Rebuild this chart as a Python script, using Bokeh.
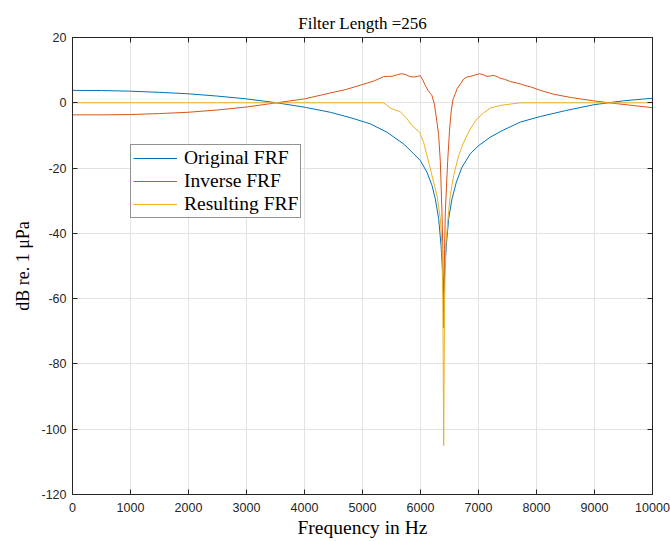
from bokeh.plotting import figure
from bokeh.models import Range1d, FixedTicker, LinearAxis, Legend, LegendItem
from bokeh.embed import file_html
from bokeh.resources import INLINE

# ---- data ----
orig_f = [0, 500, 1000, 1500, 2000, 2500, 3000, 3500, 4000, 4443, 4800, 5134, 5421, 5709, 5881,
          5997, 6112, 6198, 6255, 6313, 6354, 6375, 6390, 6400, 6410, 6425, 6445, 6486, 6543,
          6618, 6716, 6859, 7003, 7205, 7434, 7722, 8067, 8500, 8987, 9500, 10000]
orig_db = [3.8, 3.75, 3.55, 3.2, 2.75, 2.05, 1.2, 0.05, -1.35, -2.9, -4.6, -6.45, -9.0, -12.6, -15.6,
           -17.7, -21.3, -25.3, -29.4, -35.5, -43.7, -50.0, -55.0, -58.0, -55.0, -50.0, -43.7, -35.5, -29.4,
           -24.3, -19.7, -15.6, -13.1, -10.5, -8.3, -5.9, -4.2, -2.4, -0.6, 0.6, 1.4]

inv_f = [0, 500, 1000, 1500, 2000, 2500, 3000, 3520, 4000, 4443, 4700, 5001, 5200, 5364, 5450,
         5510, 5600, 5680, 5750, 5820, 5900, 5950, 5997, 6040, 6083, 6130, 6169, 6198, 6240,
         6284, 6313, 6342, 6370, 6385, 6400, 6415, 6428, 6468, 6502, 6530, 6560, 6601, 6630,
         6690, 6744, 6800, 6859, 6940, 7020, 7080, 7146, 7200, 7261, 7320, 7376, 7450, 7550,
         7650, 7722, 7800, 7895, 8067, 8300, 8600, 8987, 9246, 9600, 10000]
inv_db = [-3.7, -3.7, -3.6, -3.3, -2.9, -2.2, -1.3, 0.0, 1.2, 3.0, 4.0, 5.6, 6.7, 8.0, 8.1,
          8.1, 8.6, 8.9, 8.6, 8.0, 7.9, 8.1, 8.3, 7.0, 5.3, 3.8, 2.9, 2.2, -0.5,
          -5.9, -10.0, -18.0, -33.5, -45.0, -69.0, -45.0, -33.5, -18.0, -8.0, -2.5, 1.0, 2.8, 4.3,
          5.8, 7.3, 7.9, 8.1, 8.5, 8.9, 8.6, 8.1, 8.2, 8.4, 8.0, 7.5, 7.2, 6.5,
          6.1, 5.8, 5.3, 4.9, 3.8, 2.6, 1.6, 0.6, 0.0, -0.7, -1.5]

res_f = [0, 2500, 5000, 5364, 5479, 5560, 5651, 5767, 5853, 5985, 6054, 6112, 6169, 6226,
         6284, 6342, 6370, 6385, 6400, 6415, 6435, 6486, 6514, 6571, 6658, 6744, 6859, 6975,
         7089, 7205, 7377, 7550, 7722, 8000, 10000]
res_db = [0.0, 0.0, 0.0, 0.0, -1.6, -2.2, -2.7, -4.9, -7.0, -9.0, -12.1, -16.2, -20.2, -24.3,
          -28.4, -35.5, -43.7, -60.0, -105.0, -60.0, -43.7, -33.0, -28.4, -22.3, -16.2, -12.1, -8.0, -4.9,
          -3.1, -1.6, -0.8, -0.4, 0.0, 0.0, 0.0]

x_ticks = [0, 1000, 2000, 3000, 4000, 5000, 6000, 7000, 8000, 9000, 10000]
y_ticks = [20, 0, -20, -40, -60, -80, -100, -120]

series_names = ["Original FRF", "Inverse FRF", "Resulting FRF"]
colors = ["#0072BD", "#D95319", "#EDB120"]

AX = "#262626"
SERIF = "Liberation Serif"
SANS = "Liberation Sans"

p = figure(width=670, height=541, output_backend="svg", toolbar_location=None,
           x_range=Range1d(0, 10000), y_range=Range1d(-120, 20),
           min_border_left=72, min_border_right=18, min_border_top=37, min_border_bottom=47,
           title="Filter Length =256")
p.background_fill_color = "white"
p.border_fill_color = "white"
p.outline_line_color = AX
p.outline_line_width = 1

p.title.align = "center"
p.title.text_font = SERIF
p.title.text_font_size = "17px"
p.title.text_font_style = "normal"
p.title.text_color = "#000000"

for ax in (p.xaxis[0], p.yaxis[0]):
    ax.axis_line_color = AX
    ax.major_tick_line_color = AX
    ax.major_tick_in = 5
    ax.major_tick_out = 0
    ax.minor_tick_line_color = None
    ax.major_label_text_font = SANS
    ax.major_label_text_font_size = "12.5px"
    ax.major_label_text_color = AX
    ax.axis_label_text_font = SERIF
    ax.axis_label_text_font_size = "19.5px"
    ax.axis_label_text_font_style = "normal"
    ax.axis_label_text_color = "#000000"

p.xaxis[0].ticker = FixedTicker(ticks=x_ticks)
p.yaxis[0].ticker = FixedTicker(ticks=y_ticks)
p.yaxis[0].major_label_overrides = {t: str(t) for t in y_ticks}
p.xaxis[0].major_label_overrides = {t: str(t) for t in x_ticks}
p.xaxis[0].axis_label = "Frequency in Hz"
p.yaxis[0].axis_label = "dB re. 1 μPa"
p.yaxis[0].axis_label_text_font_size = "18px"
p.xaxis[0].major_label_standoff = 8
p.yaxis[0].major_label_standoff = 6
p.xaxis[0].axis_label_standoff = 2
p.yaxis[0].axis_label_standoff = 5

# mirrored inward ticks on top and right (MATLAB box)
for loc in ("right", "above"):
    ax = LinearAxis(ticker=FixedTicker(ticks=y_ticks if loc == "right" else x_ticks))
    ax.axis_line_color = AX
    ax.major_tick_line_color = AX
    ax.major_tick_in = 5
    ax.major_tick_out = 0
    ax.minor_tick_line_color = None
    ax.major_label_text_font_size = "0px"
    ax.major_label_text_color = None
    ax.major_label_standoff = 0
    p.add_layout(ax, loc)

p.xgrid.ticker = FixedTicker(ticks=x_ticks)
p.ygrid.ticker = FixedTicker(ticks=y_ticks)
p.grid.grid_line_color = "#e3e3e3"
p.grid.grid_line_width = 1

r_orig = p.line(orig_f, orig_db, line_color=colors[0], line_width=1)
r_inv = p.line(inv_f, inv_db, line_color=colors[1], line_width=1)
r_res = p.line(res_f, res_db, line_color=colors[2], line_width=1)

legend = Legend(items=[LegendItem(label=series_names[0], renderers=[r_orig]),
                       LegendItem(label=series_names[1], renderers=[r_inv]),
                       LegendItem(label=series_names[2], renderers=[r_res])],
                location=(58, 276))
legend.label_text_font = SERIF
legend.label_text_font_size = "19.5px"
legend.label_text_color = "#000000"
legend.glyph_width = 44
legend.glyph_height = 20
legend.label_height = 20
legend.spacing = 1
legend.padding = 2
legend.margin = 0
legend.label_standoff = 7
legend.border_line_color = AX
legend.border_line_width = 1
legend.background_fill_color = "white"
legend.background_fill_alpha = 1.0
p.add_layout(legend, "center")

open("out.html", "w").write(file_html(p, INLINE))
